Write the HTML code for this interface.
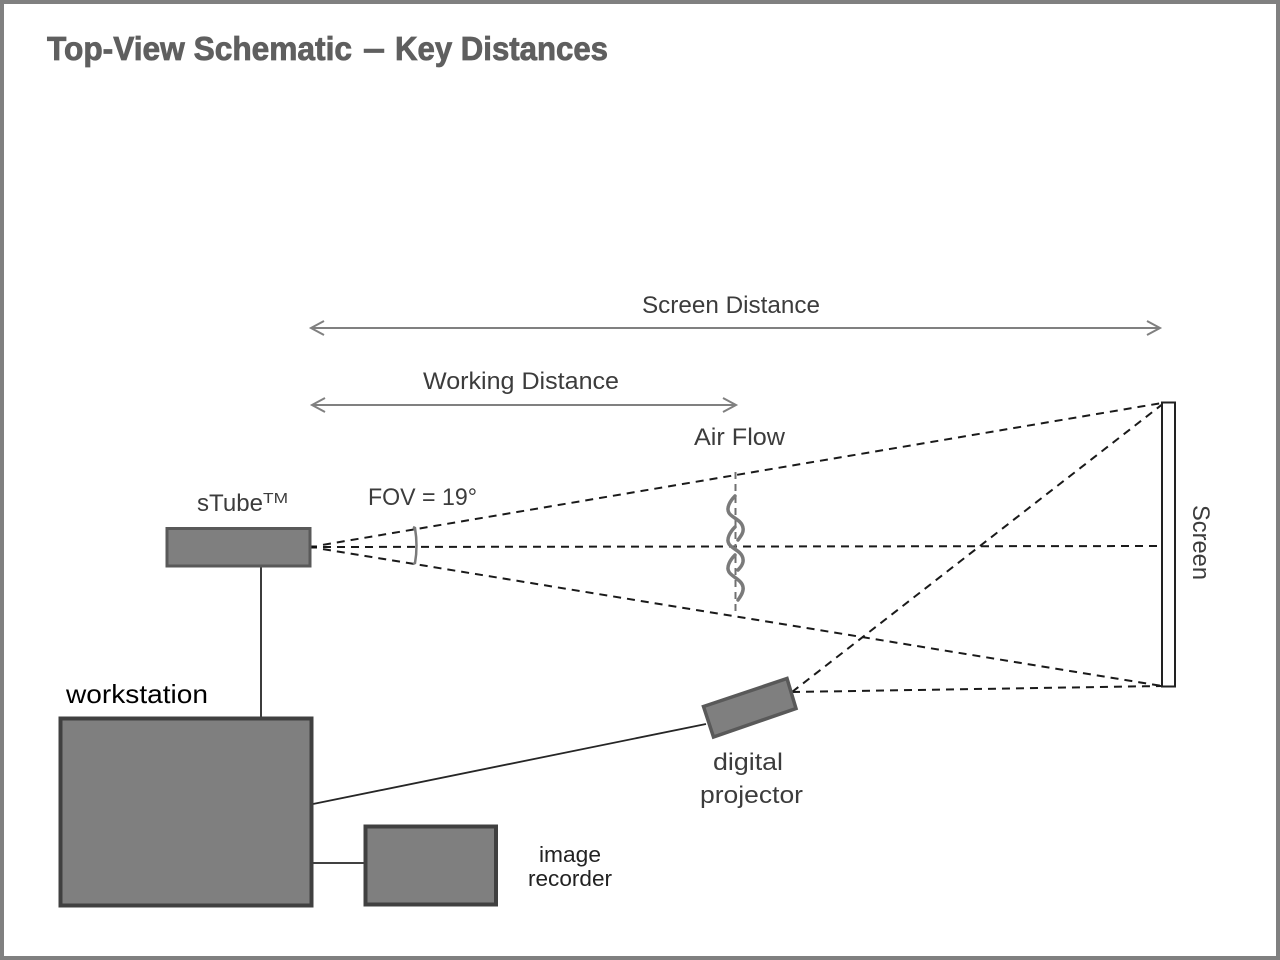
<!DOCTYPE html>
<html>
<head>
<meta charset="utf-8">
<title>Top-View Schematic — Key Distances</title>
<style>
html,body{margin:0;padding:0;background:#fff;}
svg{display:block;}
text{font-family:"Liberation Sans",sans-serif;}
</style>
</head>
<body>
<svg xmlns="http://www.w3.org/2000/svg" width="1280" height="960" viewBox="0 0 1280 960">
<rect x="0" y="0" width="1280" height="960" fill="#fff"/>
<rect x="2" y="2" width="1276" height="956" fill="none" stroke="#808080" stroke-width="4"/>

<g font-size="33" font-weight="bold" fill="#5f5f5f" stroke="#5f5f5f" stroke-width="0.8">
<text x="47" y="60" textLength="305" lengthAdjust="spacingAndGlyphs">Top-View Schematic</text>
<text x="364" y="60" textLength="20" lengthAdjust="spacingAndGlyphs">—</text>
<text x="395" y="60" textLength="213" lengthAdjust="spacingAndGlyphs">Key Distances</text>
</g>

<!-- dimension arrows -->
<g stroke="#808080" stroke-width="2" fill="none">
<line x1="311" y1="328" x2="1160" y2="328"/>
<polyline points="324,321 311,328 324,335"/>
<polyline points="1147,321 1160,328 1147,335"/>
<line x1="312" y1="405" x2="736" y2="405"/>
<polyline points="325,398 312,405 325,412"/>
<polyline points="723,398 736,405 723,412"/>
</g>

<!-- dashed field-of-view and projector rays -->
<g stroke="#1a1a1a" stroke-width="2" fill="none" stroke-dasharray="8 6">
<line x1="323" y1="544.800" x2="1162" y2="403"/>
<line x1="323" y1="547" x2="1162" y2="546"/>
<line x1="323" y1="549.100" x2="1162" y2="686"/>
<line x1="792" y1="692" x2="1164" y2="403"/>
<line x1="792" y1="692" x2="1162" y2="686"/>
</g>
<line x1="310" y1="547" x2="317" y2="547" stroke="#111" stroke-width="3"/>

<!-- FOV arc -->
<path d="M413,527 L415,528 Q418,546 415,563 L413,564" fill="none" stroke="#7a7a7a" stroke-width="2.500"/>

<!-- air flow -->
<line x1="735.500" y1="472" x2="735.500" y2="616" stroke="#707070" stroke-width="2" stroke-dasharray="7 5"/>
<g stroke="#7a7a7a" stroke-width="3.500" fill="none" stroke-linecap="round">
<path d="M735,496 C730,501 726,508 729,513 C732,518 742,520 743,528 C744,533 740,537 738,540"/>
<path d="M735,527 C730,532 726,539 729,544 C732,549 742,551 743,559 C744,564 740,568 738,570"/>
<path d="M735,555 C730,560 726,567 729,572 C732,577 742,580 743,587 C744,592 740,597 738,600"/>
</g>

<!-- connectors -->
<g stroke="#262626" stroke-width="1.800" fill="none">
<line x1="261" y1="566" x2="261" y2="718"/>
<line x1="313" y1="804" x2="706" y2="724"/>
<line x1="312" y1="863" x2="365" y2="863"/>
</g>

<!-- sTube -->
<rect x="167" y="528.500" width="143" height="37.500" fill="#7f7f7f" stroke="#595959" stroke-width="3"/>

<!-- workstation -->
<rect x="60.500" y="718.500" width="251" height="187" fill="#7f7f7f" stroke="#404040" stroke-width="4"/>

<!-- image recorder -->
<rect x="365.500" y="826.500" width="130.500" height="78" fill="#7f7f7f" stroke="#404040" stroke-width="4"/>

<!-- digital projector -->
<polygon points="703.500,706.500 787,678.500 796,708.500 713.500,737" fill="#7f7f7f" stroke="#595959" stroke-width="3.500"/>

<!-- screen -->
<rect x="1162" y="402.500" width="13" height="284" fill="#fff" stroke="#222" stroke-width="2"/>

<!-- labels -->
<g fill="#3c3c3c" font-size="24">
<text x="642" y="313" textLength="178" lengthAdjust="spacingAndGlyphs">Screen Distance</text>
<text x="423" y="389" textLength="196" lengthAdjust="spacingAndGlyphs">Working Distance</text>
<text x="694" y="445" textLength="91" lengthAdjust="spacingAndGlyphs">Air Flow</text>
<text x="368" y="505" textLength="109" lengthAdjust="spacingAndGlyphs">FOV = 19°</text>
<text x="197" y="511" textLength="66" lengthAdjust="spacingAndGlyphs">sTube</text>
<text x="263" y="503" font-size="15" textLength="25" lengthAdjust="spacingAndGlyphs">TM</text>
<text x="713" y="770" textLength="70" lengthAdjust="spacingAndGlyphs">digital</text>
<text x="700" y="803" textLength="103" lengthAdjust="spacingAndGlyphs">projector</text>
<text transform="translate(1193,505) rotate(90)" textLength="75" lengthAdjust="spacingAndGlyphs">Screen</text>
</g>
<text x="66" y="703" font-size="26" fill="#000" textLength="142" lengthAdjust="spacingAndGlyphs">workstation</text>
<text x="539" y="862" font-size="22" fill="#222" textLength="62" lengthAdjust="spacingAndGlyphs">image</text>
<text x="528" y="886" font-size="22" fill="#222" textLength="84" lengthAdjust="spacingAndGlyphs">recorder</text>
</svg>
</body>
</html>
